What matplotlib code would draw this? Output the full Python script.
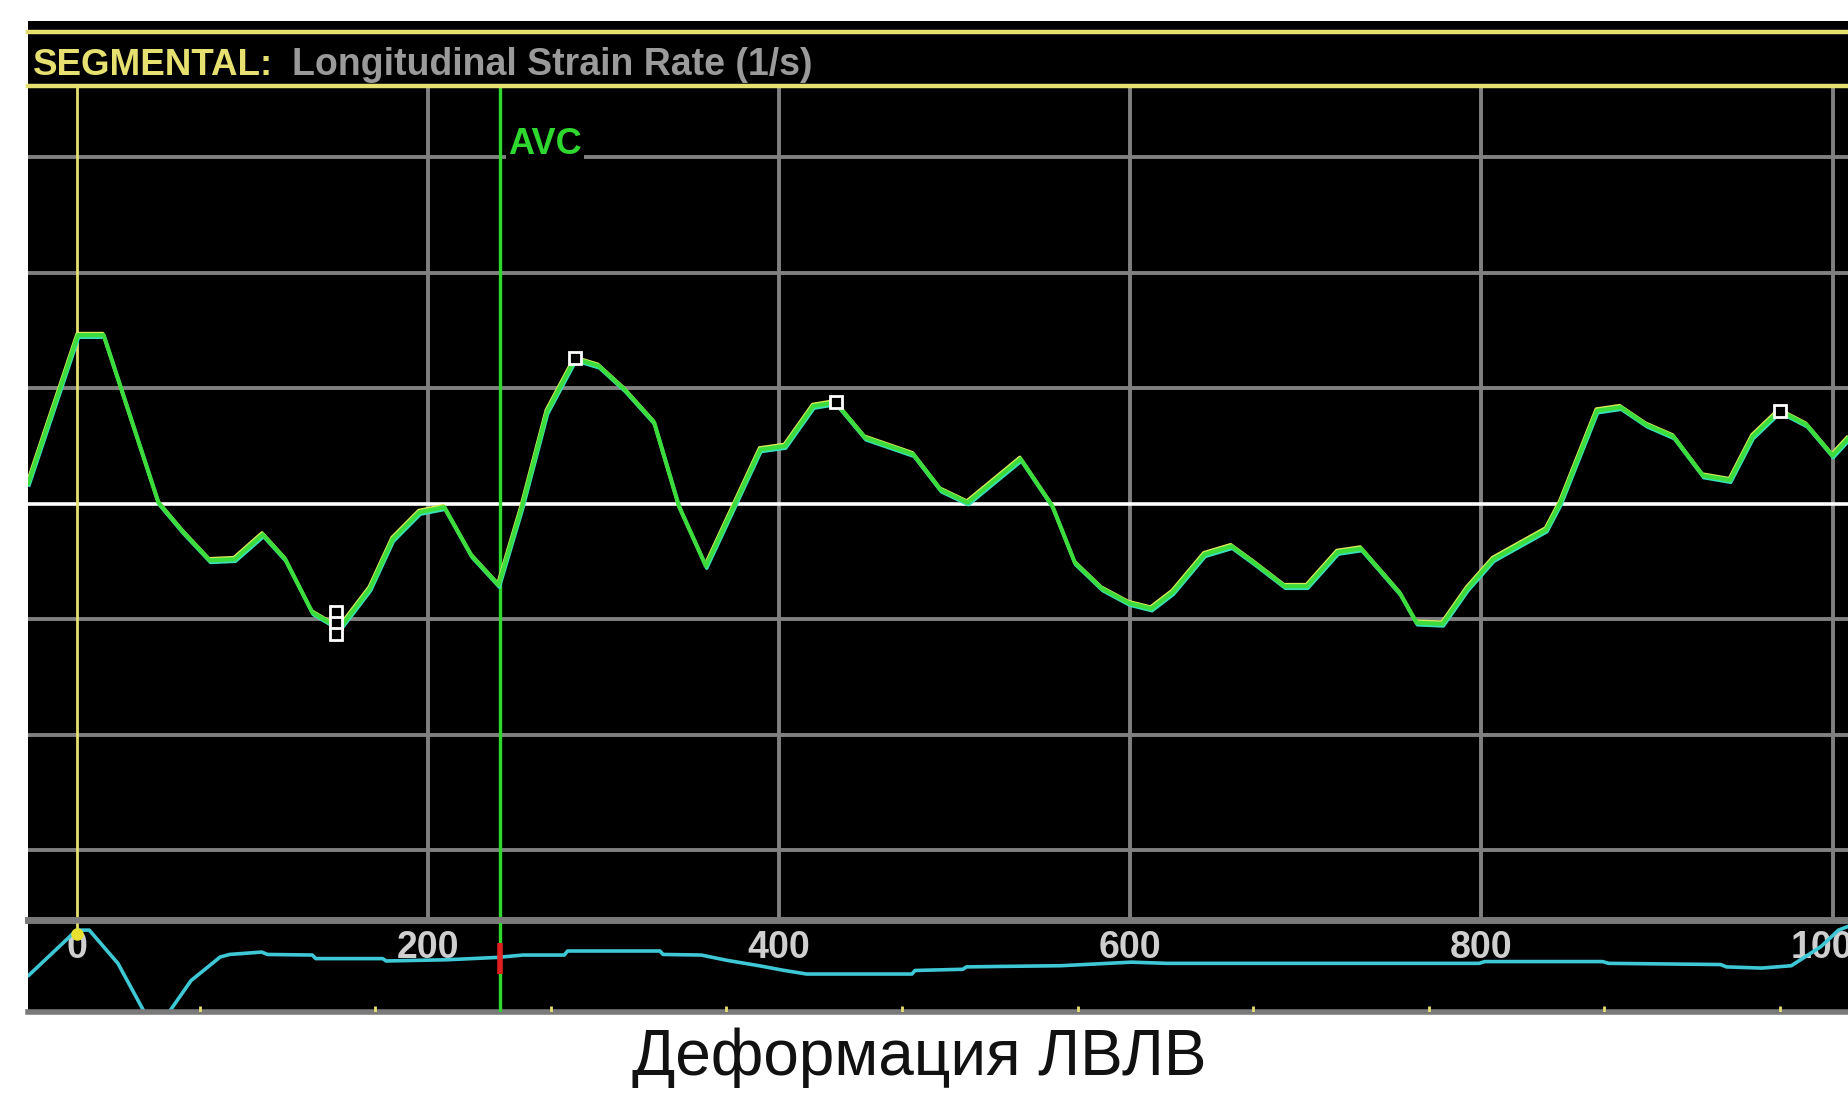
import matplotlib
matplotlib.use("Agg")
import matplotlib.pyplot as plt
from matplotlib.patches import Rectangle
from matplotlib.lines import Line2D
from matplotlib.transforms import offset_copy

W, H = 1848, 1094

# strain rate trace (ms, 1/s)
t_sr = [-27.5, 0.7, 15.4, 46.6, 60.4, 75.8, 90, 106, 118.8, 134.2, 149.7, 167,
        180, 195.3, 209.4, 224.8, 240.3, 253.7, 267.8, 283.9, 297.3, 312, 328.9,
        343, 358.4, 389.3, 403.4, 419.5, 432.2, 449, 476.5, 492, 507.4, 537.6,
        555.7, 568.5, 583.9, 599.3, 612, 624.2, 642.3, 657.7, 670.5, 688, 700.7,
        718.1, 731.5, 753.7, 763.1, 777.9, 792, 806.7, 836.9, 845, 865.8, 879.2,
        894, 909.4, 926.2, 941.6, 954.4, 969.8, 985.2, 1000, 1008.7]
sr = [0.09, 0.73, 0.73, 0.005, -0.12, -0.245, -0.24, -0.133, -0.24, -0.47,
      -0.54, -0.367, -0.153, -0.036, -0.015, -0.224, -0.352, -0.01, 0.398,
      0.628, 0.597, 0.495, 0.352, -0.01, -0.27, 0.235, 0.25, 0.423, 0.439,
      0.286, 0.214, 0.061, 0.005, 0.194, -0.01, -0.255, -0.367, -0.43, -0.454,
      -0.383, -0.219, -0.184, -0.255, -0.357, -0.357, -0.209, -0.194, -0.388,
      -0.515, -0.52, -0.367, -0.24, -0.112, 0.005, 0.403, 0.418, 0.342, 0.291,
      0.122, 0.102, 0.291, 0.403, 0.342, 0.209, 0.281]

# peak markers
t_peak = [147.7, 147.7, 147.7, 284, 432.5, 969.8]
v_peak = [-0.469, -0.515, -0.566, 0.633, 0.439, 0.401]

# ECG trace (arbitrary units)
t_ecg = [-27.2, 0, 7.2, 23.5, 40, 50.8, 65.1, 81.7, 87.1, 105.4, 108.7, 134.2,
         136.2, 174.3, 176.2, 210.5, 239.6, 254.2, 277.7, 279.6, 332.2, 334,
         355.7, 370.5, 388.6, 403.1, 415.8, 475.7, 477.5, 504.7, 506.7, 525.8,
         560.4, 600.7, 620.8, 798.7, 802, 869, 872.5, 936.2, 939.6, 959.7,
         976.5, 993.3, 1003.4, 1008.7]
ecg = [-1.2, 2.6, 2.6, -0.2, -4.7, -4.7, -1.66, 0.33, 0.55, 0.75, 0.55, 0.5,
       0.2, 0.2, 0.0, 0.1, 0.3, 0.5, 0.5, 0.84, 0.84, 0.55, 0.5, 0.05, -0.4,
       -0.8, -1.1, -1.1, -0.8, -0.7, -0.5, -0.46, -0.4, -0.1, -0.2, -0.2,
       -0.05, -0.05, -0.2, -0.3, -0.5, -0.6, -0.4, 1.2, 2.6, 2.9]

x_grid = [200, 400, 600, 800, 1000]
y_grid = [-1.5, -1.0, -0.5, 0.5, 1.0, 1.5]
x_labels = [0, 200, 400, 600, 800, 1000]
frame_ticks = [70, 170, 270, 370, 470, 570, 670, 770, 870, 970]
t_avc = 241
XLIM = (-27.7, 1008.8)

YEL = "#e6e070"
GRAY = "#808080"
GREEN = "#2ed82e"

fig = plt.figure(figsize=(W / 100, H / 100), dpi=100, facecolor="white")

# black screen
fig.patches.append(Rectangle((28 / W, 1 - 1014 / H), 1 - 28 / W, (1014 - 21) / H,
                             transform=fig.transFigure, facecolor="black",
                             edgecolor="none", zorder=-5))
for yp in (32, 86):
    fig.add_artist(Line2D([28 / W, 1], [1 - yp / H] * 2, color=YEL, lw=3.2,
                          transform=fig.transFigure))

fig.text(33 / W, 1 - 75 / H, "SEGMENTAL:", color=YEL, fontsize=26.5,
         fontweight="bold", family="Liberation Sans", va="baseline")
fig.text(292 / W, 1 - 75 / H, "Longitudinal Strain Rate (1/s)", color="#9a9a9a",
         fontsize=27, fontweight="bold", family="Liberation Sans", va="baseline")

# main strain-rate panel
ax = fig.add_axes([28 / W, 1 - 919.5 / H, 1 - 28 / W, (919.5 - 88) / H])
ax.set_facecolor("black")
ax.set_xlim(*XLIM)
ax.set_ylim(-1.8, 1.8)
ax.axis("off")
for yv in y_grid:
    ax.axhline(yv, color=GRAY, lw=2.8, zorder=1)
for xv in x_grid:
    ax.axvline(xv, color=GRAY, lw=2.8, zorder=1)
ax.axhline(0, color="white", lw=2.6, zorder=2)
ax.axhline(-1.8, color="#7a7a7a", lw=5, zorder=5, clip_on=False)
ax.axvline(0, color=YEL, lw=2.0, zorder=3)
ax.axvline(t_avc, color=GREEN, lw=2.4, zorder=3)
ax.text(t_avc + 5, 1.515, "AVC", color=GREEN, fontsize=26, fontweight="bold",
        family="Liberation Sans", va="baseline", ha="left", zorder=4,
        bbox=dict(facecolor="black", edgecolor="none", pad=1.5))

ax.plot(t_sr, sr, color="#38e0b8", lw=2.4, zorder=4,
        transform=offset_copy(ax.transData, fig=fig, x=0.8, y=-2.2, units="dots"))
ax.plot(t_sr, sr, color="#d8ec58", lw=2.2, zorder=4,
        transform=offset_copy(ax.transData, fig=fig, x=-0.8, y=1.8, units="dots"))
ax.plot(t_sr, sr, color="#3cdc3c", lw=3.0, zorder=5)
ax.plot(t_peak, v_peak, ls="none", marker="s", markersize=8, mfc="black",
        mec="white", mew=2.0, zorder=6)

# lower ECG panel
ax2 = fig.add_axes([28 / W, 1 - 1012 / H, 1 - 28 / W, (1012 - 923) / H])
ax2.set_facecolor("black")
ax2.set_xlim(*XLIM)
ax2.set_ylim(-4.3, 3.2)
ax2.axis("off")
for xl in x_labels:
    ax2.text(xl, 1.1, str(xl), color="#cfcfcf", fontsize=27, fontweight="bold",
             ha="center", va="center", family="Liberation Sans", zorder=2)
ax2.plot(t_ecg, ecg, color="#3ec8d6", lw=2.6, zorder=3)
ax2.axvline(t_avc, color=GREEN, lw=2.4, zorder=4)
ax2.vlines([t_avc], -1.1, 1.5, color="#e02020", lw=4, zorder=5)
ax2.vlines([0], 2.4, 3.2, color=YEL, lw=2.0, zorder=4)
ax2.plot([0], [2.3], marker="o", color="#e8e030", markersize=8, zorder=5)
ax2.vlines(frame_ticks, -4.3, -3.8, color=YEL, lw=2, zorder=4)
ax2.axhline(-4.3, color="#7a7a7a", lw=4, zorder=3, clip_on=False)

fig.text(919 / W, 1 - 1058 / H, "Деформация ЛВЛВ", color="#111111", fontsize=46,
         ha="center", va="center", family="Liberation Sans")

fig.savefig("out.png", dpi=100, facecolor="white")
